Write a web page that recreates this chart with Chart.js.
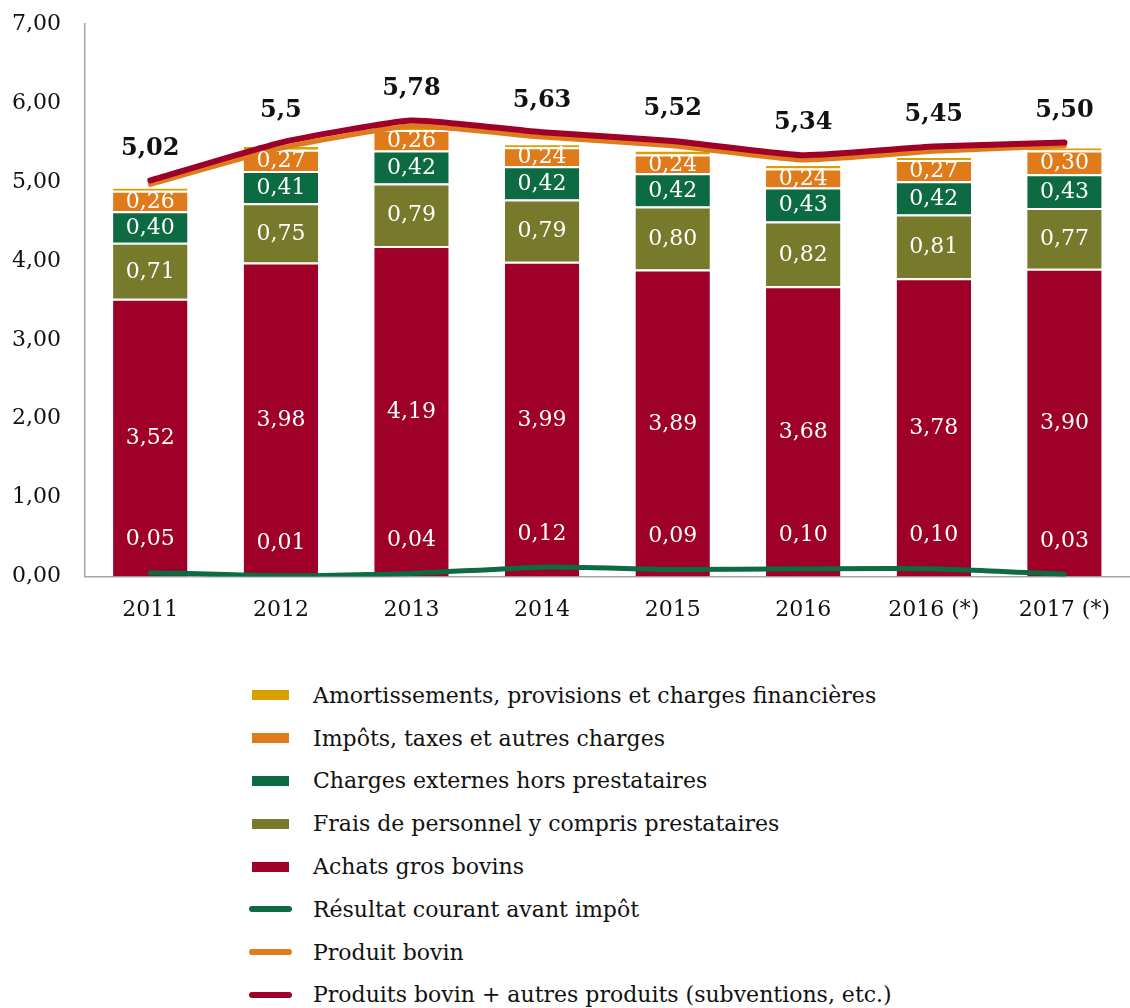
<!DOCTYPE html>
<html>
<head>
<meta charset="utf-8">
<script src="https://cdn.jsdelivr.net/npm/chart.js@4/dist/chart.umd.min.js"></script>
<style>
  body{ margin:0; background:#fff; font-family:"DejaVu Serif", serif; color:#111; }
  #wrap{ position:relative; width:1130px; height:656px; margin-top:-13px; }
  #legend{ position:absolute; left:249px; top:674px; font-size:22px; }
  .row{ height:42.8px; display:flex; align-items:center; }
  .sw{ width:64px; height:10px; position:relative; flex:none; }
  .sw i{ position:absolute; display:block; }
</style>
</head>
<body>
<div id="wrap"><canvas id="c"></canvas></div>
<div id="legend"></div>
<script>
/* ---------- data ---------- */
const years = ["2011","2012","2013","2014","2015","2016","2016 (*)","2017 (*)"];

const achats      = [3.52, 3.98, 4.19, 3.99, 3.89, 3.68, 3.78, 3.90];
const personnel   = [0.71, 0.75, 0.79, 0.79, 0.80, 0.82, 0.81, 0.77];
const externes    = [0.40, 0.41, 0.42, 0.42, 0.42, 0.43, 0.42, 0.43];
const impots      = [0.26, 0.27, 0.26, 0.24, 0.24, 0.24, 0.27, 0.30];
const amort       = [0.05, 0.06, 0.07, 0.05, 0.06, 0.06, 0.05, 0.05];   // no labels, thin band

const resultat    = [0.05, 0.01, 0.04, 0.12, 0.09, 0.10, 0.10, 0.03];
const produit     = [4.97, 5.43, 5.71, 5.57, 5.46, 5.28, 5.39, 5.46];
const produitsTot = [5.02, 5.50, 5.78, 5.63, 5.52, 5.34, 5.45, 5.50];
const totLabels   = ["5,02","5,5","5,78","5,63","5,52","5,34","5,45","5,50"];

const yTicks = [0,1,2,3,4,5,6,7];

const C = { red:"#9E0027", olive:"#767A2A", green:"#0D6B43", orange:"#E07B1C",
            yellow:"#D9A100", axis:"#A6A6A6", ink:"#111" };
const FONT = "DejaVu Serif";
const fr = v => v.toFixed(2).replace(".", ",");

/* ---------- datasets ---------- */
const bar = (label, data, color, labels) => ({
  type:"bar", label, data, backgroundColor:color, order:5, stack:"bars",
  borderColor:"#fff", borderWidth:{ top:2, left:0, right:0, bottom:0 }, borderSkipped:false,
  categoryPercentage:1, barPercentage:0.57, _lab:labels, _mode:"center"
});
// each line gets its own stack id so it is not summed with anything
const line = (label, data, color, w, order, labels, off, font) => ({
  type:"line", label, data, stack:"line-"+label, borderColor:color, backgroundColor:color,
  borderWidth:w, pointRadius:0, tension:0.15, order, borderCapStyle:"round", borderJoinStyle:"round",
  _lab:labels, _mode:"above", _off:off, _font:font
});

const datasets = [
  bar("Achats gros bovins", achats, C.red, achats.map(fr)),
  bar("Frais de personnel y compris prestataires", personnel, C.olive, personnel.map(fr)),
  bar("Charges externes hors prestataires", externes, C.green, externes.map(fr)),
  bar("Impôts, taxes et autres charges", impots, C.orange, impots.map(fr)),
  bar("Amortissements, provisions et charges financières", amort, C.yellow, null),
  line("Résultat courant avant impôt", resultat, C.green, 5, 1, resultat.map(fr), -33, null),
  line("Produit bovin", produit, C.orange, 5, 1, null),
  line("Produits bovin + autres produits (subventions, etc.)", produitsTot, C.red, 6, 0, totLabels, -32, "bold 24px '"+FONT+"'"),
];

/* ---------- value labels ---------- */
const labelPlugin = {
  id:"vlabels",
  afterDatasetsDraw(chart){
    const ctx = chart.ctx;
    ctx.save();
    ctx.textAlign = "center"; ctx.textBaseline = "middle";
    chart.data.datasets.forEach((ds, i) => {
      if (!ds._lab) return;
      chart.getDatasetMeta(i).data.forEach((el, j) => {
        if (ds._mode === "center"){
          ctx.font = "22px '"+FONT+"'"; ctx.fillStyle = "#fff";
          ctx.fillText(ds._lab[j], el.x, (el.y + el.base) / 2 + 1);
        } else {
          ctx.font = ds._font || "22px '"+FONT+"'";
          ctx.fillStyle = ds._font ? C.ink : "#fff";
          ctx.fillText(ds._lab[j], el.x, el.y + ds._off);
        }
      });
    });
    ctx.restore();
  }
};

new Chart(document.getElementById("c"), {
  data:{ labels:years, datasets },
  plugins:[labelPlugin],
  options:{
    responsive:true, maintainAspectRatio:false, animation:false,
    layout:{ padding:{ top:0, right:0, bottom:0, left:0 } },
    plugins:{ legend:{ display:false }, tooltip:{ enabled:false } },
    scales:{
      x:{ stacked:true, offset:true,
          grid:{ display:false, drawTicks:false },
          border:{ display:true, color:C.axis, width:1.5 },
          ticks:{ color:C.ink, padding:20, font:{ family:FONT, size:22 } } },
      y:{ stacked:true, min:0, max:7,
          afterBuildTicks: s => { s.ticks = yTicks.map(v => ({ value:v })); },
          afterFit: s => { s.width = 85; },
          grid:{ display:false, drawTicks:false },
          border:{ display:true, color:C.axis, width:1.5 },
          ticks:{ color:C.ink, padding:24, font:{ family:FONT, size:22 }, callback: v => fr(v) } }
    }
  }
});

/* ---------- legend (vertical, as in the reference) ---------- */
const legendOrder = [4,3,2,1,0,5,6,7];
document.getElementById("legend").innerHTML = legendOrder.map(i => {
  const ds = datasets[i];
  const sw = ds.type === "bar"
    ? `<i style="left:3px;top:0;width:37px;height:10px;background:${ds.backgroundColor}"></i>`
    : `<i style="left:0;top:2px;width:43px;height:6px;border-radius:3px;background:${ds.borderColor}"></i>`;
  return `<div class="row"><span class="sw">${sw}</span><span>${ds.label}</span></div>`;
}).join("");
</script>
</body>
</html>
